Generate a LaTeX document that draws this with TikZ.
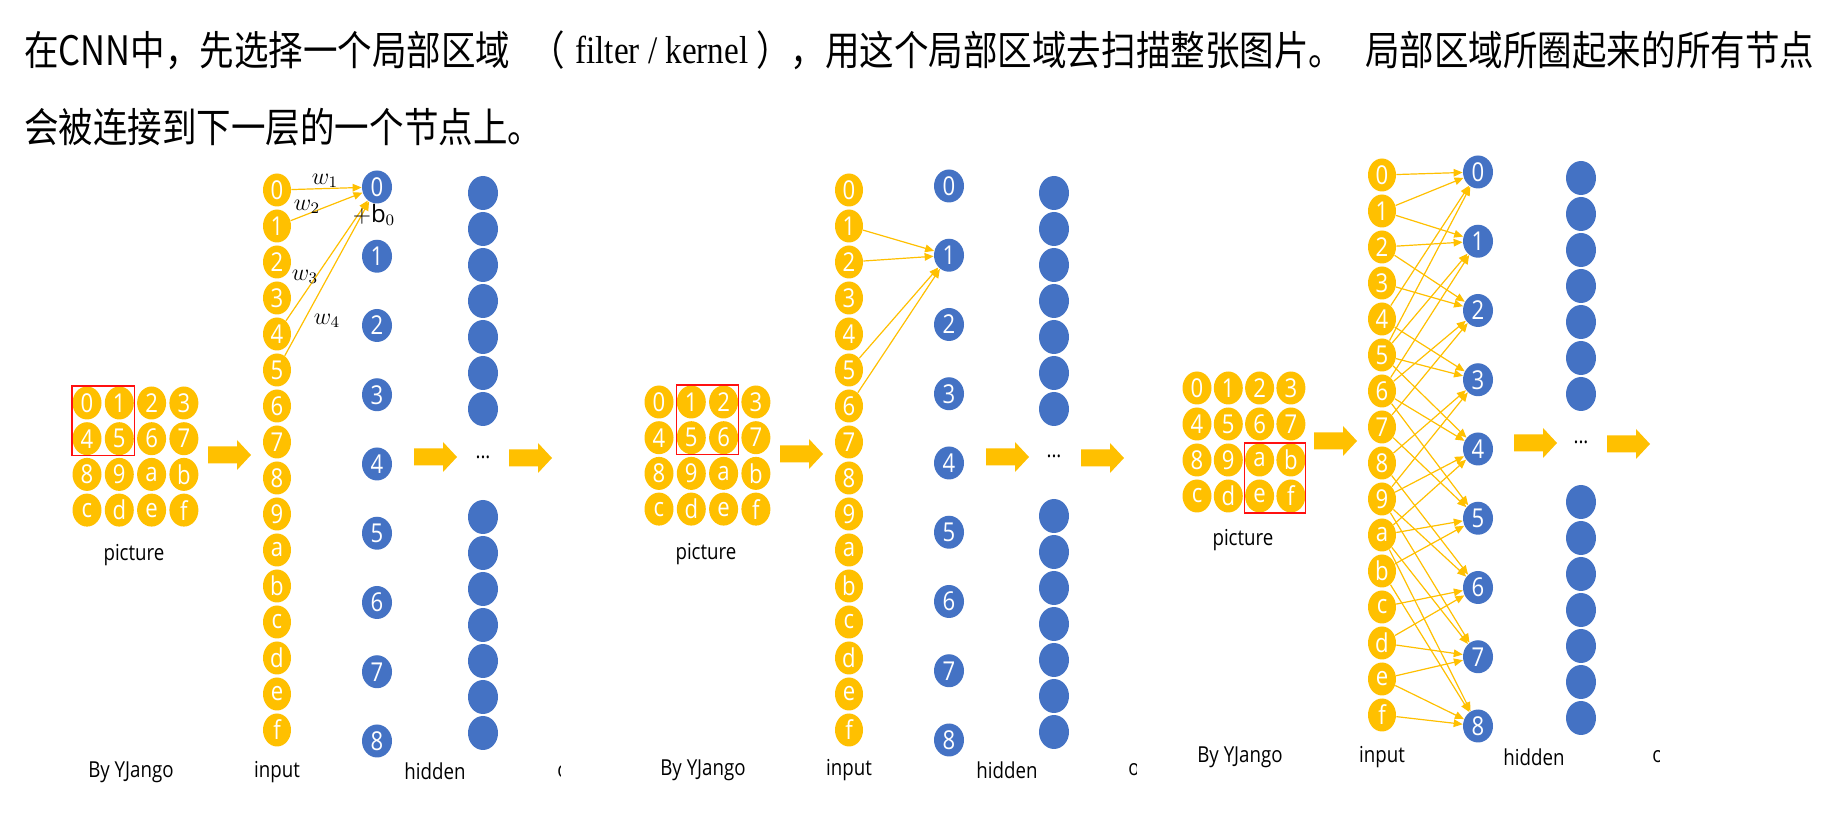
\documentclass[tikz,border=0pt]{standalone}
\usepackage{fontspec}
\setmainfont{Open Sans}
\newfontfamily\cjkfont{Noto Sans CJK SC}
\newfontfamily\romanfont{Liberation Serif}
\usepackage{graphicx}
\usetikzlibrary{arrows.meta,shapes.geometric,fit,positioning}

\definecolor{cnnyellow}{HTML}{FFC000}
\definecolor{cnnblue}{HTML}{4472C4}
\definecolor{filterred}{HTML}{FF1010}

\newcommand\sq[1]{\scalebox{0.85}[1]{#1}}
\newcommand\fatarrow[2]{%
  \fill[cnnyellow] (#1,#2) ++(0,-8.5) -- ++(29,0) -- ++(0,-6.5) -- ++(14,15)
    -- ++(-14,15) -- ++(0,-6.5) -- ++(-29,0) -- cycle;}
\def\hexlist{0,1,2,3,4,5,6,7,8,9,a,b,c,d,e,f}

\tikzset{
  gridnode/.style={
    ellipse, fill=cnnyellow, text=white, inner sep=0pt,
    minimum width=14.5pt, minimum height=16.5pt,
    font=\fontsize{13}{13}\selectfont
  },
  innode/.style={gridnode, minimum width=14pt},
  hidnode/.style={gridnode, fill=cnnblue, minimum width=15pt},
  blanknode/.style={hidnode, minimum height=17pt},
  filterbox/.style={draw=filterred, line width=0.65pt, inner sep=0pt},
  wire/.style={draw=cnnyellow, line width=0.6pt,
    -{Triangle[length=4.5pt,width=3.8pt]}},
  capt/.style={font=\fontsize{11}{13}\selectfont, inner sep=0pt},
  wlabel/.style={font=\fontsize{12}{14}\selectfont, inner sep=0pt},
  headtxt/.style={font=\cjkfont\fontsize{20.3}{24}\selectfont,
    inner sep=0pt, anchor=base west},
  kerneltxt/.style={font=\romanfont\fontsize{19.5}{24}\selectfont,
    inner sep=0pt, anchor=base west},
}

\begin{document}
\begin{tikzpicture}[x=0.5pt, y=-0.5pt]

  \fill[white] (0,0) rectangle (1843,817);
  \useasboundingbox (0,0) rectangle (1843,817);

  % ── Heading ──────────────────────────────────────────────────────────────────
  \node[headtxt] (t1) at (24,66)   {\sq{在CNN中，先选择一个局部区域}};
  \node[headtxt] (t2) at (530,66)  {\sq{（}};
  \node[kerneltxt] (t3) at (575,64) {\sq{filter / kernel}};
  \node[headtxt] (t4) at (756,66)  {\sq{），用这个局部区域去扫描整张图片。}};
  \node[headtxt] (t5) at (1365,66) {\sq{局部区域所圈起来的所有节点}};
  \node[headtxt] (t6) at (24,143)  {\sq{会被连接到下一层的一个节点上。}};

  % ════════════════════════════════════════════════════════════════════════════
  % PANEL 1 — filter on 0 1 4 5
  % ════════════════════════════════════════════════════════════════════════════
  \def\colIn{277}   % input
  \def\colHid{377}  % hidden
  \def\colNext{483} % next layer

  % picture grid
  \foreach \t [count=\i from 0] in \hexlist {
    \pgfmathsetmacro\cx{87+mod(\i,4)*32.3}
    \pgfmathsetmacro\cy{403+floor(\i/4)*35.7}
    \node[gridnode] (g1-\t) at (\cx,\cy) {\sq{\t}};
  }
  \node[filterbox, fit=(g1-0)(g1-5)] (f1) {};
  \node[capt] (pic1) at (134,555) {\sq{picture}};

  % columns
  \foreach \t [count=\i from 0] in \hexlist
    \node[innode] (in1-\t) at (\colIn,{190+36*\i}) {\sq{\t}};
  \foreach \i in {0,...,8}
    \node[hidnode] (h1-\i) at (\colHid,{187+69.25*\i}) {\sq{\i}};
  \foreach \i in {0,...,6} {
    \node[blanknode] (u1-\i) at (\colNext,{193+36*\i}) {};
    \node[blanknode] (l1-\i) at (\colNext,{517+36*\i}) {};
  }
  \node[capt] (dots1) at (\colNext,457) {\sq{...}};

  % weights
  \foreach \s in {0,1,4,5}
    \draw[wire] (in1-\s) -- (h1-0);
  \node[wlabel] (w1-1) at (325,181) {$w_1$};
  \node[wlabel] (w1-2) at (307,207) {$w_2$};
  \node[wlabel] (w1-3) at (305,277) {$w_3$};
  \node[wlabel] (w1-4) at (327,321) {$w_4$};
  \node[wlabel] (b1)   at (374,215) {$+\mathrm{b}_0$};

  \fatarrow{208}{455}
  \fatarrow{414}{457}
  \fatarrow{509}{458}

  \node[capt] (by1)  at (131,772)    {\sq{By YJango}};
  \node[capt] (inp1) at (\colIn,772) {\sq{input}};
  \node[capt] (hid1) at (435,771)    {\sq{hidden}};
  \begin{scope}
    \clip (550,750) rectangle (560,795);
    \node[capt] (out1) at (563,772) {\sq{o}};
  \end{scope}

  % ════════════════════════════════════════════════════════════════════════════
  % PANEL 2 — filter on 1 2 5 6
  % ════════════════════════════════════════════════════════════════════════════
  \def\colIn{849}
  \def\colHid{949}
  \def\colNext{1054}

  \foreach \t [count=\i from 0] in \hexlist {
    \pgfmathsetmacro\cx{659+mod(\i,4)*32.3}
    \pgfmathsetmacro\cy{402+floor(\i/4)*35.7}
    \node[gridnode] (g2-\t) at (\cx,\cy) {\sq{\t}};
  }
  \node[filterbox, fit=(g2-1)(g2-6)] (f2) {};
  \node[capt] (pic2) at (706,554) {\sq{picture}};

  \foreach \t [count=\i from 0] in \hexlist
    \node[innode] (in2-\t) at (\colIn,{190+36*\i}) {\sq{\t}};
  \foreach \i in {0,...,8}
    \node[hidnode] (h2-\i) at (\colHid,{186+69.25*\i}) {\sq{\i}};
  \foreach \i in {0,...,6} {
    \node[blanknode] (u2-\i) at (\colNext,{193+36*\i}) {};
    \node[blanknode] (l2-\i) at (\colNext,{516+36*\i}) {};
  }
  \node[capt] (dots2) at (\colNext,456) {\sq{...}};

  \foreach \s in {1,2,5,6}
    \draw[wire] (in2-\s) -- (h2-1);

  \fatarrow{780}{454}
  \fatarrow{986}{457}
  \fatarrow{1081}{458}

  \node[capt] (by2)  at (703,770)    {\sq{By YJango}};
  \node[capt] (inp2) at (\colIn,770) {\sq{input}};
  \node[capt] (hid2) at (1007,770)   {\sq{hidden}};
  \begin{scope}
    \clip (1120,750) rectangle (1136,795);
    \node[capt] (out2) at (1134,770) {\sq{o}};
  \end{scope}

  % ════════════════════════════════════════════════════════════════════════════
  % PANEL 3 — filter slid over the whole picture
  % ════════════════════════════════════════════════════════════════════════════
  \def\colIn{1382}
  \def\colHid{1478}
  \def\colNext{1581}

  \foreach \t [count=\i from 0] in \hexlist {
    \pgfmathsetmacro\cx{1197+mod(\i,4)*31.3}
    \pgfmathsetmacro\cy{388+floor(\i/4)*36}
    \node[gridnode] (g3-\t) at (\cx,\cy) {\sq{\t}};
  }
  \node[filterbox, fit=(g3-a)(g3-f)] (f3) {};
  \node[capt] (pic3) at (1243,540) {\sq{picture}};

  \foreach \t [count=\i from 0] in \hexlist
    \node[innode] (in3-\t) at (\colIn,{175+36*\i}) {\sq{\t}};
  \foreach \i in {0,...,8}
    \node[hidnode] (h3-\i) at (\colHid,{172+69.25*\i}) {\sq{\i}};
  \foreach \i in {0,...,6} {
    \node[blanknode] (u3-\i) at (\colNext,{178+36*\i}) {};
    \node[blanknode] (l3-\i) at (\colNext,{502+36*\i}) {};
  }
  \node[capt] (dots3) at (\colNext,442) {\sq{...}};

  % every 2x2 window -> one hidden node
  \foreach \o/\a/\b/\c/\d in {0/0/1/4/5, 1/1/2/5/6, 2/2/3/6/7,
                              3/4/5/8/9, 4/5/6/9/a, 5/6/7/a/b,
                              6/8/9/c/d, 7/9/a/d/e, 8/a/b/e/f} {
    \foreach \s in {\a,\b,\c,\d}
      \draw[wire] (in3-\s) -- (h3-\o);
  }

  \fatarrow{1314}{441}
  \fatarrow{1514}{443}
  \fatarrow{1607}{444}

  \node[capt] (by3)  at (1240,757)   {\sq{By YJango}};
  \node[capt] (inp3) at (\colIn,757) {\sq{input}};
  \node[capt] (hid3) at (1534,757)   {\sq{hidden}};
  \begin{scope}
    \clip (1645,735) rectangle (1659,780);
    \node[capt] (out3) at (1658,757) {\sq{o}};
  \end{scope}

\end{tikzpicture}
\end{document}
